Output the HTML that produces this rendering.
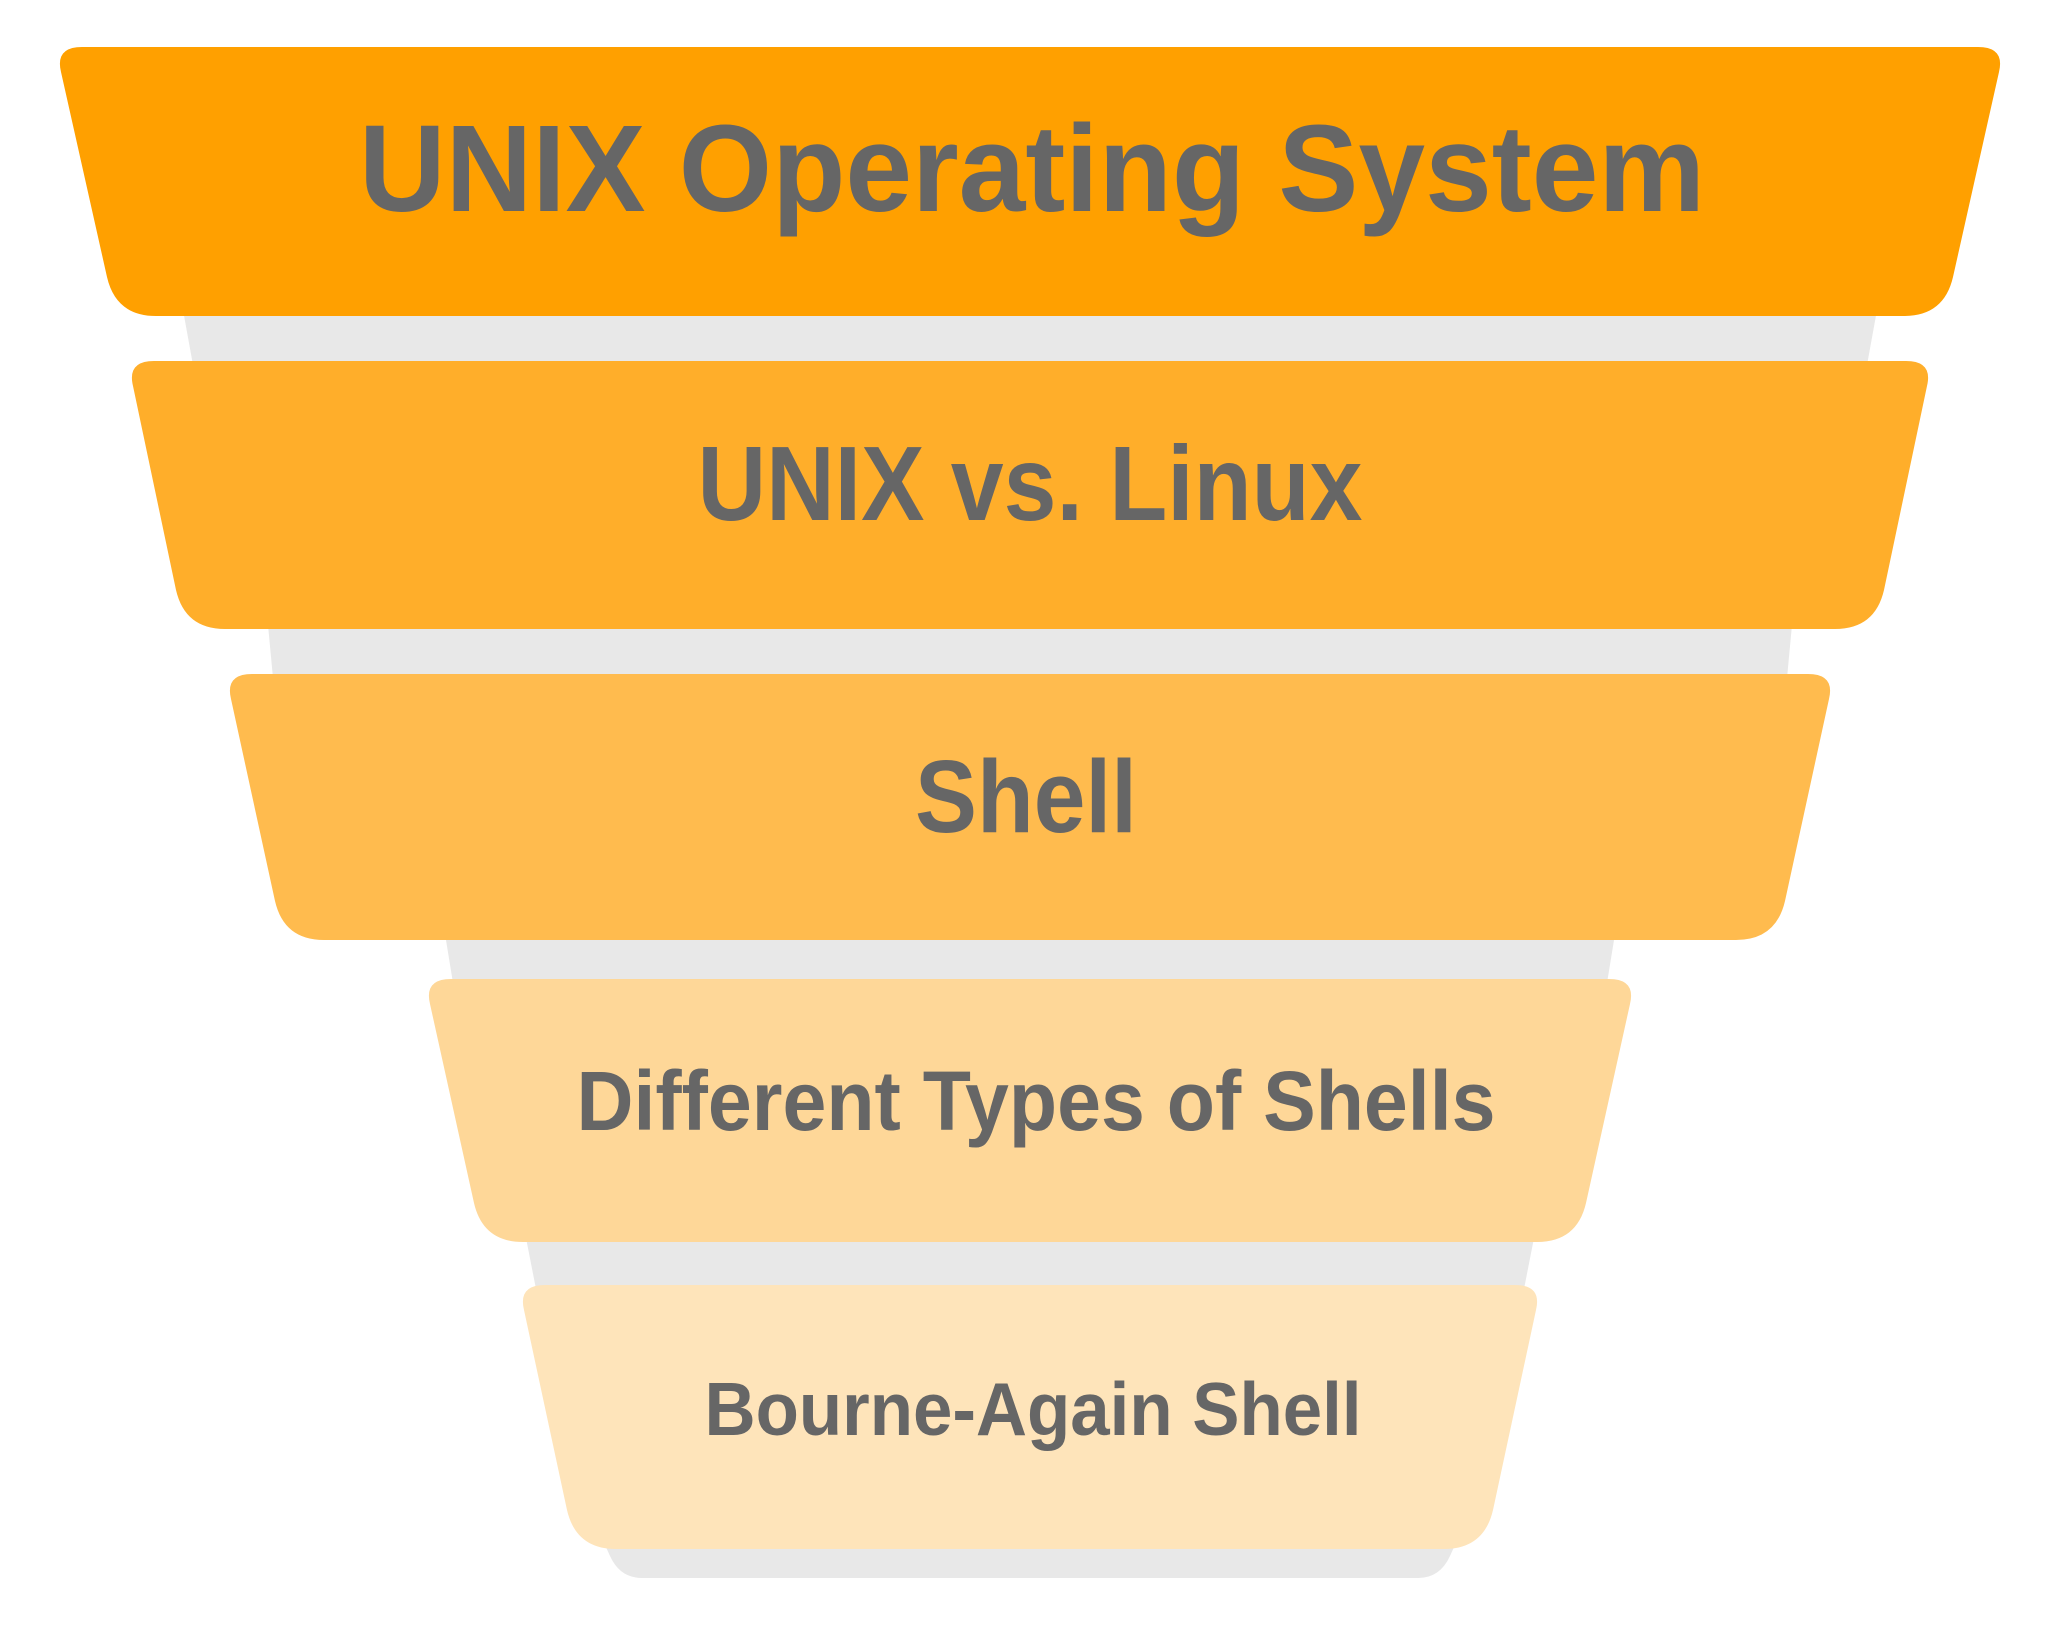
<!DOCTYPE html>
<html><head><meta charset="utf-8"><style>
html,body{margin:0;padding:0;background:#fff;}
svg{display:block;}
text{font-family:"Liberation Sans",Arial,sans-serif;font-weight:bold;fill:#666;}
</style></head><body>
<svg width="2059" height="1639" viewBox="0 0 2059 1639" xmlns="http://www.w3.org/2000/svg">
<rect width="2059" height="1639" fill="#fff"/>
<g fill="#e8e8e8">
<polygon points="183,310 1877,310 1867,365 193,365"/>
<polygon points="268,625 1792,625 1787,678 273,678"/>
<polygon points="445,934 1615,934 1607,983 453,983"/>
<polygon points="526,1238 1534,1238 1524,1289 536,1289"/>
<path d="M605 1545 L1455 1545 L1450 1556 Q1440 1578 1418 1578 L642 1578 Q620 1578 610 1556 Z"/>
</g>
<path fill="#ffa000" d="M82 47 L1978 47 Q2005 47 1999 72 L1953 277 Q1944 316 1904 316 L156 316 Q116 316 107 277 L61 72 Q55 47 82 47Z"/>
<path fill="#ffae2a" d="M154 361 L1906 361 Q1933 361 1927 386 L1884 590 Q1875 629 1835 629 L225 629 Q185 629 176 590 L133 386 Q127 361 154 361Z"/>
<path fill="#ffbb4e" d="M252 674 L1808 674 Q1835 674 1829 699 L1785 901 Q1776 940 1736 940 L324 940 Q284 940 275 901 L231 699 Q225 674 252 674Z"/>
<path fill="#fed798" d="M451 979 L1609 979 Q1636 979 1630 1004 L1586 1203 Q1577 1242 1537 1242 L523 1242 Q483 1242 474 1203 L430 1004 Q424 979 451 979Z"/>
<path fill="#fee4ba" d="M545 1285 L1515 1285 Q1542 1285 1536 1310 L1493 1510 Q1484 1549 1444 1549 L616 1549 Q576 1549 567 1510 L524 1310 Q518 1285 545 1285Z"/>
<text x="1032" y="211" font-size="123" text-anchor="middle" textLength="1346" lengthAdjust="spacingAndGlyphs">UNIX Operating System</text>
<text x="1030" y="520" font-size="106" text-anchor="middle" textLength="665" lengthAdjust="spacingAndGlyphs">UNIX vs. Linux</text>
<text x="1026" y="832" font-size="103" text-anchor="middle" textLength="222" lengthAdjust="spacingAndGlyphs">Shell</text>
<text x="1036" y="1130" font-size="84" text-anchor="middle" textLength="919" lengthAdjust="spacingAndGlyphs">Different Types of Shells</text>
<text x="1033" y="1435" font-size="75" text-anchor="middle" textLength="657" lengthAdjust="spacingAndGlyphs">Bourne-Again Shell</text>
</svg>
</body></html>
